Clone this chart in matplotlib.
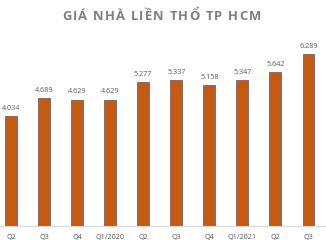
import matplotlib
matplotlib.use("Agg")
import matplotlib.pyplot as plt

# Data
# ===================================
quarters = ["Q2", "Q3", "Q4", "Q1/2020", "Q2", "Q3", "Q4", "Q1/2021", "Q2", "Q3"]
prices = [4.034, 4.689, 4.629, 4.629, 5.277, 5.337, 5.158, 5.347, 5.642, 6.289]
value_labels = ["4.034", "4.689", "4.629", "4.629", "5.277", "5.337", "5.158", "5.347", "5.642", "6.289"]
title = "GIÁ NHÀ LIỀN THỔ TP HCM"

# Graph
# ===================================
plt.rcParams["font.family"] = ["Open Sans", "DejaVu Sans"]

fig = plt.figure(figsize=(3.26, 2.45), dpi=100)
ax = fig.add_axes([0, 19 / 245, 325 / 326, 186 / 245])

x = range(len(quarters))
bars = ax.bar(x, prices, width=0.36, color="#C55A11", edgecolor="#76708a", linewidth=0.7)

for xi, val, lab in zip(x, prices, value_labels):
    ax.annotate(lab, (xi, val), xytext=(0, 3), textcoords="offset points",
                ha="center", va="bottom", fontsize=5.2, color="#595959")

ax.set_xlim(-0.333, 9.5)
ax.set_ylim(0, 6.81)
ax.set_xticks(list(x))
ax.set_xticklabels(quarters, fontsize=5.2, color="#595959")
ax.tick_params(axis="x", length=0, pad=6)
ax.set_yticks([])

for side in ["top", "right", "left"]:
    ax.spines[side].set_visible(False)
ax.spines["bottom"].set_color("#d9d9d9")
ax.spines["bottom"].set_linewidth(0.8)

# letter-spaced title, drawn one character at a time
title_kw = dict(fontsize=9.4, fontweight="bold", color="#7f7f7f")
renderer = fig.canvas.get_renderer()


def text_width(s):
    t = fig.text(0, 0, s + "I", **title_kw)
    w = t.get_window_extent(renderer).width
    t.remove()
    return w


w_ref = text_width("")
target_left, target_right = 62, 261
natural = text_width(title) - w_ref
spacing = (target_right - target_left - natural) / (len(title) - 1)
y_title = 1 - 16 / 245
for i, ch in enumerate(title):
    if ch == " ":
        continue
    px = target_left + text_width(title[:i]) - w_ref + i * spacing
    fig.text(px / 326, y_title, ch, ha="left", va="center", **title_kw)

fig.savefig("out.png", dpi=100)
